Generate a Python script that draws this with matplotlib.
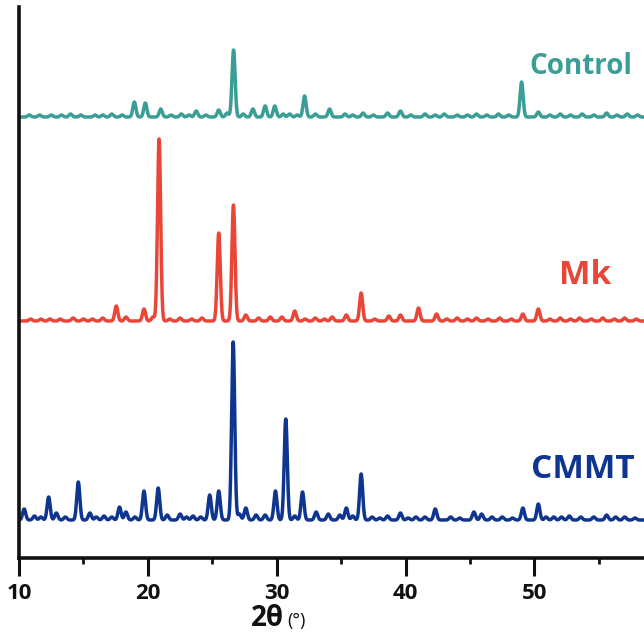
import numpy as np
import matplotlib
matplotlib.use("Agg")
import matplotlib.pyplot as plt

# ---- data: peak positions (2theta, deg) and heights (a.u.) ----
control_pos = [10.8, 11.6, 12.5, 13.3, 14.0, 14.8, 15.9, 16.5, 17.2, 18.0, 18.95, 19.8, 21.0,
               21.8, 22.6, 23.2, 23.75, 24.5, 25.5, 26.15, 26.65, 27.4,
               28.15, 29.1, 29.85, 30.5, 31.0, 31.6, 32.16, 33.0, 34.1, 35.3, 35.9, 36.7,
               37.5, 38.6, 39.6, 40.4, 41.5, 42.3, 43.0, 44.0, 44.8, 45.5, 46.3, 47.2,
               48.0, 49.0, 50.3, 51.2, 52.0, 52.8, 53.7, 54.6, 55.6, 56.4, 57.2, 58.0]
control_h = [2, 2, 2, 2, 3, 2, 2, 2, 3, 2, 15, 14, 8,
             2, 3, 2, 6, 2, 7, 4, 67, 3,
             8, 11, 11, 3, 3, 2, 21, 3, 8, 3, 2, 4,
             2, 4, 6, 2, 3, 2, 3, 2, 2, 3, 2, 3,
             2, 35, 5, 2, 3, 2, 3, 2, 4, 2, 3, 2]

mk_pos = [10.9, 11.7, 12.4, 13.2, 14.2, 15.0, 15.7, 16.5, 17.55, 18.3, 19.7, 20.4, 20.87,
          21.7, 22.5, 23.4, 24.2, 25.5, 26.64,
          27.6, 28.6, 29.5, 30.4, 31.4, 32.2, 33.0, 33.7, 34.3, 35.4, 36.55, 37.6, 38.7,
          39.6, 41.0, 42.4, 43.2, 44.0, 44.8, 45.5, 46.4, 47.3, 48.2, 49.1, 50.3, 51.2,
          52.0, 52.8, 53.5, 54.4, 55.3, 56.2, 57.0, 57.9]
mk_h = [2, 2, 2, 2, 3, 2, 2, 3, 15, 4, 12, 4, 182,
        2, 3, 2, 3, 88, 116,
        6, 3, 4, 4, 10, 2, 3, 2, 4, 6, 28, 2, 5,
        6, 13, 7, 2, 3, 2, 3, 2, 3, 2, 7, 12, 2,
        3, 2, 3, 2, 3, 2, 3, 2]

cmmt_pos = [10.4, 11.2, 11.7, 12.3, 12.9, 13.6, 14.6, 15.5, 16.0, 16.6, 17.2, 17.8, 18.3, 19.0,
            19.7, 20.8, 21.5, 22.5, 23.0, 23.5, 24.1, 24.8, 25.5, 26.62, 27.1, 27.6, 28.4, 29.1,
            29.9, 30.7, 31.4, 32.0, 33.06, 34.0, 34.9, 35.4, 35.9, 36.55, 37.4, 38.0, 38.6,
            39.6, 40.2, 40.8, 41.5, 42.3, 43.5, 44.2, 45.3, 45.9, 46.7, 47.5, 48.3, 49.1,
            50.3, 50.9, 51.5, 52.1, 52.7, 53.6, 54.6, 55.6, 56.3, 57.0, 57.8]
cmmt_h = [11, 4, 3, 23, 7, 3, 38, 7, 3, 4, 3, 13, 8, 3,
          29, 32, 5, 6, 3, 4, 3, 25, 29, 178, 6, 12, 5, 5,
          29, 101, 4, 28, 8, 6, 5, 12, 4, 46, 3, 2, 4,
          7, 2, 3, 3, 11, 3, 2, 8, 6, 3, 3, 2, 12,
          16, 3, 3, 3, 4, 3, 3, 5, 3, 3, 2]

labels = ["Control", "Mk", "CMMT"]
offsets = [403, 199, 0]
colors = ["#3a9d96", "#ea4638", "#0e3690"]
xticks = [10, 20, 30, 40, 50]

# ---- figure ----
fig = plt.figure(figsize=(6.44, 6.34), dpi=100)
ax = fig.add_axes([19/644, 1 - 558/634, 1 - 19/644, (558 - 7)/634])

x = np.linspace(10, 60, 5001)

def profile(pos, h, width=0.12):
    y = np.zeros_like(x)
    for p, a in zip(pos, h):
        y += a * np.exp(-0.5 * ((x - p) / width) ** 2)
    return y

series = [(control_pos, control_h), (mk_pos, mk_h), (cmmt_pos, cmmt_h)]
for (pos, h), off, c in zip(series, offsets, colors):
    ax.plot(x, profile(pos, h) + off, color=c, lw=2.5, solid_joinstyle="round")

ax.set_xlim(10, 58.5)
ax.set_ylim(-38, 513)

for s in ["top", "right"]:
    ax.spines[s].set_visible(False)
for s in ["left", "bottom"]:
    ax.spines[s].set_linewidth(2.6)
    ax.spines[s].set_color("#111111")

ax.set_yticks([])
ax.set_xticks(xticks)
ax.set_xticks([15, 25, 35, 45, 55], minor=True)
ax.tick_params(axis="x", which="major", direction="out", length=13, width=2.2,
               colors="#111111", pad=5)
ax.tick_params(axis="x", which="minor", direction="out", length=4, width=2.0,
               colors="#111111")
for lab in ax.get_xticklabels():
    lab.set_fontfamily("Open Sans")
    lab.set_fontweight("bold")
    lab.set_fontsize(16)

# sample labels
ax.text(57.55, 453, labels[0], color=colors[0], fontsize=20,
        fontweight="bold", family="Open Sans", ha="right", va="center")
ax.text(55.95, 245, labels[1], color=colors[1], fontsize=24,
        fontweight="bold", family="Open Sans", ha="right", va="center")
ax.text(57.8, 51, labels[2], color=colors[2], fontsize=24,
        fontweight="bold", family="Open Sans", ha="right", va="center")

# axis title
fig.text(284/644, 1 - 619/634, "2θ", fontsize=20, fontweight="bold",
         family="Open Sans", ha="right", va="center", color="#111111")
fig.text(287/644, 1 - 621/634, "(°)", fontsize=13,
         family="Open Sans", ha="left", va="center", color="#111111")

fig.savefig("out.png", dpi=100)
